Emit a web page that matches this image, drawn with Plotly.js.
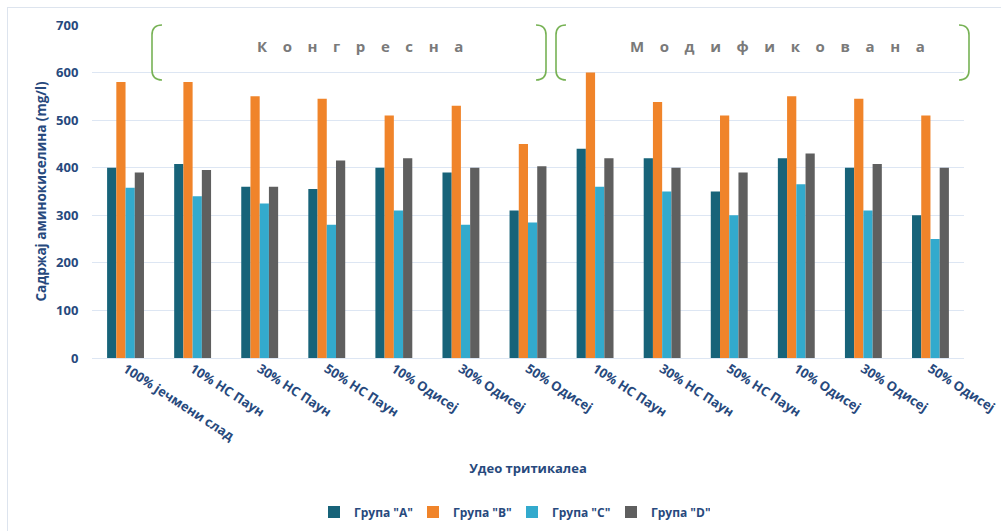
<!DOCTYPE html>
<html>
<head>
<meta charset="utf-8">
<script src="https://cdn.plot.ly/plotly-3.0.1.min.js"></script>
<style>
html,body{margin:0;padding:0;background:#fff;}
#wrap{position:relative;width:1001px;height:531px;overflow:hidden;}
#chart{width:1001px;height:531px;}
#frame{position:absolute;left:7px;top:7px;width:1000px;height:530px;border-left:1px solid #dde4ee;border-top:1px solid #dde4ee;pointer-events:none;}
</style>
</head>
<body>
<div id="wrap"><div id="chart"></div><div id="frame"></div></div>
<script>
const categories = [
  "100% јечмени слад",
  "10% НС Паун", "30% НС Паун", "50% НС Паун",
  "10% Одисеј", "30% Одисеј", "50% Одисеј",
  "10% НС Паун ", "30% НС Паун ", "50% НС Паун ",
  "10% Одисеј ", "30% Одисеј ", "50% Одисеј "
];
const groupA = [400, 408, 360, 355, 400, 390, 310, 440, 420, 350, 420, 400, 300];
const groupB = [580, 580, 550, 545, 510, 530, 450, 600, 538, 510, 550, 545, 510];
const groupC = [358, 340, 325, 280, 310, 280, 285, 360, 350, 300, 365, 310, 250];
const groupD = [390, 395, 360, 415, 420, 400, 403, 420, 400, 390, 430, 408, 400];
const seriesNames = ['Група "A"', 'Група "B"', 'Група "C"', 'Група "D"'];
const seriesColors = ['#176379', '#f0842a', '#33aacd', '#5f5f5f'];
const yTicks = [0, 100, 200, 300, 400, 500, 600, 700];
const bracketLabels = ["Конгресна", "Модификована"];

const allSeries = [groupA, groupB, groupC, groupD];
const traces = allSeries.map((vals, i) => ({
  type: 'bar',
  x: categories,
  y: vals,
  name: seriesNames[i],
  marker: {color: seriesColors[i], line: {width: 0}},
  hoverinfo: 'x+y+name'
}));

// plot area in pixels
const L = 92, R = 964, T = 25, B = 358;
const px = v => (v - L) / (R - L);
const py = v => (B - v) / (B - T);

function bracket(x1, x2, top, bot, r) {
  const left = `M ${px(x1 + r)} ${py(top)} Q ${px(x1)} ${py(top)} ${px(x1)} ${py(top + r)} L ${px(x1)} ${py(bot - r)} Q ${px(x1)} ${py(bot)} ${px(x1 + r)} ${py(bot)}`;
  const right = `M ${px(x2 - r)} ${py(top)} Q ${px(x2)} ${py(top)} ${px(x2)} ${py(top + r)} L ${px(x2)} ${py(bot - r)} Q ${px(x2)} ${py(bot)} ${px(x2 - r)} ${py(bot)}`;
  const st = {type: 'path', xref: 'paper', yref: 'paper', line: {color: '#77b255', width: 1.6}};
  return [Object.assign({path: left}, st), Object.assign({path: right}, st)];
}

const shapes = [].concat(
  bracket(152, 546, 25, 80, 10),
  bracket(556, 969, 25, 80, 10)
);

const spaced = s => s.split('').join('\u00a0\u00a0\u00a0\u00a0');

const navy = '#27497d';
const layout = {
  width: 1001, height: 531,
  margin: {l: L, r: 1001 - R, t: T, b: 531 - B},
  paper_bgcolor: '#ffffff', plot_bgcolor: '#ffffff',
  barmode: 'group',
  bargap: 0.45,
  bargroupgap: 0,
  font: {family: 'Open Sans, sans-serif', color: navy},
  xaxis: {
    type: 'category',
    tickangle: 33,
    tickfont: {size: 13, color: navy, family: 'Open Sans, sans-serif', weight: 'bold'},
    showgrid: false,
    showline: false,
    zeroline: false,
    ticks: '',
    automargin: false,
    title: {text: 'Удео тритикалеа', font: {size: 13, color: navy, weight: 'bold'}, standoff: 20}
  },
  yaxis: {
    range: [0, 700],
    tickvals: yTicks,
    ticktext: yTicks.map(String),
    tickfont: {size: 13, color: navy, weight: 'bold'},
    gridcolor: '#dde6f3',
    gridwidth: 1,
    zeroline: true,
    zerolinecolor: '#dde6f3',
    zerolinewidth: 1,
    showline: false,
    ticks: 'outside', ticklen: 10, tickcolor: 'rgba(0,0,0,0)',
    automargin: false,
    title: {text: 'Садржај аминокиселина (mg/l)', font: {size: 13.5, color: navy, weight: 'bold'}, standoff: 6}
  },
  legend: {
    orientation: 'h',
    xref: 'container', yref: 'container',
    x: 512 / 1001, xanchor: 'center',
    y: 1 - 512 / 531, yanchor: 'middle',
    font: {size: 12, color: navy, weight: 'bold'},
    traceorder: 'normal',
    itemwidth: 30,
    entrywidth: 54,
    entrywidthmode: 'pixels'
  },
  shapes: shapes,
  annotations: [
    {text: spaced(bracketLabels[0]), xref: 'paper', yref: 'paper', x: px(360), y: py(46),
     xanchor: 'center', yanchor: 'middle', showarrow: false,
     font: {size: 15, color: '#7a7a7a', weight: 'bold'}},
    {text: spaced(bracketLabels[1]), xref: 'paper', yref: 'paper', x: px(777), y: py(46),
     xanchor: 'center', yanchor: 'middle', showarrow: false,
     font: {size: 15, color: '#7a7a7a', weight: 'bold'}}
  ],
  showlegend: true
};

Plotly.newPlot('chart', traces, layout, {displayModeBar: false, staticPlot: true});
</script>
</body>
</html>
